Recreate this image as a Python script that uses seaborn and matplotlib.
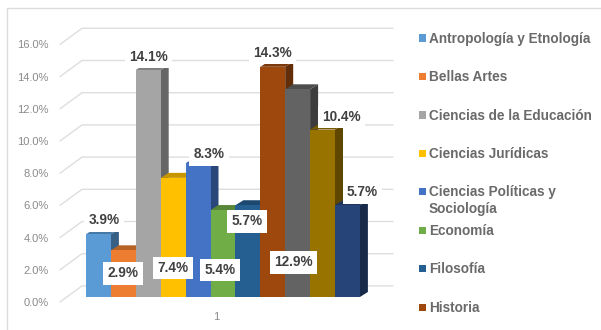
import matplotlib
matplotlib.use("Agg")
import matplotlib.pyplot as plt
from matplotlib.lines import Line2D
from matplotlib.patches import Rectangle
import pandas as pd
import seaborn as sns

# Share of theses per field of study
areas = ["Antropología y Etnología", "Bellas Artes", "Ciencias de la Educación",
         "Ciencias Jurídicas", "Ciencias Políticas y\nSociología", "Economía",
         "Filosofía", "Historia", "Serie 9", "Serie 10", "Serie 11"]
shares = [3.9, 2.9, 14.1, 7.4, 8.3, 5.4, 5.7, 14.3, 12.9, 10.4, 5.7]
colors = ["#5B9BD5", "#ED7D31", "#A5A5A5", "#FFC000", "#4472C4", "#70AD47",
          "#255E91", "#9E480E", "#636363", "#997300", "#264478"]
legend_count = 8
y_ticks = [0, 2, 4, 6, 8, 10, 12, 14, 16]
x_labels = ["1"]

# Label offsets from the top-centre of each bar, in pixels
label_offsets = [(5.5, 14), (0, -23), (0, 13), (0, -90), (11, 9), (-3, -60),
                 (-1, -16), (0, 14), (-4, -173), (19, 12.6), (15, 13)]
legend_rows = [38, 76, 115, 153, 191, 230, 268, 307]

W, H = 601, 330
PX_PER_UNIT = 16.1
BAR_PX = 24.9
DEPTH_X, DEPTH_Y = 8, 5


def shade(color, factor):
    r, g, b = matplotlib.colors.to_rgb(color)
    return (r * factor, g * factor, b * factor)


def place(fig, left, baseline, width, height):
    return fig.add_axes([left / W, 1 - baseline / H, width / W, height / H])


sns.set_theme(style="white")
plt.rcParams["font.family"] = ["Liberation Sans", "DejaVu Sans"]
fig = plt.figure(figsize=(W / 100, H / 100), dpi=100, facecolor="white")

# Outer frame of the chart area
fig.add_artist(Line2D([7 / W, 7 / W, 1], [0, 1 - 8 / H, 1 - 8 / H], color="#dcdcdc", lw=1))

# Back wall: perspective gridlines and the axis labels
wall = place(fig, 60, 302, 333, PX_PER_UNIT * 16)
wall.set_xlim(60, 393)
wall.set_ylim(0, 16)
wall.patch.set_alpha(0)
for v in y_ticks:
    wall.plot([60, 82, 393], [v, v + 1, v + 1], color="#dedede", lw=1, clip_on=False)
sns.despine(ax=wall, left=True, bottom=True)
wall.set_yticks(y_ticks, [f"{v:.1f}%" for v in y_ticks])
wall.set_xticks([216], x_labels)
wall.tick_params(axis="y", length=0, pad=8, labelsize=8, labelcolor="#8a8a8a")
wall.tick_params(axis="x", length=0, pad=7, labelsize=8, labelcolor="#8a8a8a")
wall.set_xlabel("")
wall.set_ylabel("")

# Bars: seaborn draws the front faces, the depth faces follow from the same values
ax = place(fig, 86, 297, BAR_PX * len(areas), PX_PER_UNIT * 16)
ax.patch.set_alpha(0)
df = pd.DataFrame({"area": areas, "share": shares})
sns.barplot(data=df, x="area", y="share", hue="area", palette=colors, hue_order=areas,
            order=areas, width=1, saturation=1, legend=False, dodge=False,
            edgecolor="none", linewidth=0, ax=ax)
ax.set_xlim(-0.5, len(areas) - 0.5)
ax.set_ylim(0, 16)
ax.axis("off")

dx = DEPTH_X / BAR_PX
dy = DEPTH_Y / PX_PER_UNIT
for i, (value, color) in enumerate(zip(shares, colors)):
    right = i + 0.5
    ax.fill([right, right + dx, right + dx, right], [0, dy, value + dy, value],
            color=shade(color, 0.62), lw=0, zorder=0.5, clip_on=False)
    ax.fill([right - 1, right - 1 + dx, right + dx, right], [value, value + dy, value + dy, value],
            color=shade(color, 0.78), lw=0, zorder=0.5, clip_on=False)

# Value labels on white boxes
for i, (value, (ox, oy)) in enumerate(zip(shares, label_offsets)):
    ax.annotate(f"{value:.1f}%", xy=(i, value), xytext=(ox * 0.72, oy * 0.72),
                textcoords="offset points", ha="center", va="center",
                fontsize=9.8, fontweight="bold", color="#404040", zorder=5,
                annotation_clip=False,
                bbox=dict(boxstyle="square,pad=0.32", fc="white", ec="none"))

# Legend column on the right
for label, color, row in zip(areas[:legend_count], colors, legend_rows):
    fig.add_artist(Rectangle((419 / W, 1 - (row + 3.5) / H), 7 / W, 7 / H,
                             transform=fig.transFigure, fc=color, ec="none"))
    fig.text(429 / W, 1 - (row - 6) / H, label, ha="left", va="top", fontsize=9.8,
             fontweight="bold", color="#6a6a6a", linespacing=1.3)

fig.savefig("out.png", dpi=100)
